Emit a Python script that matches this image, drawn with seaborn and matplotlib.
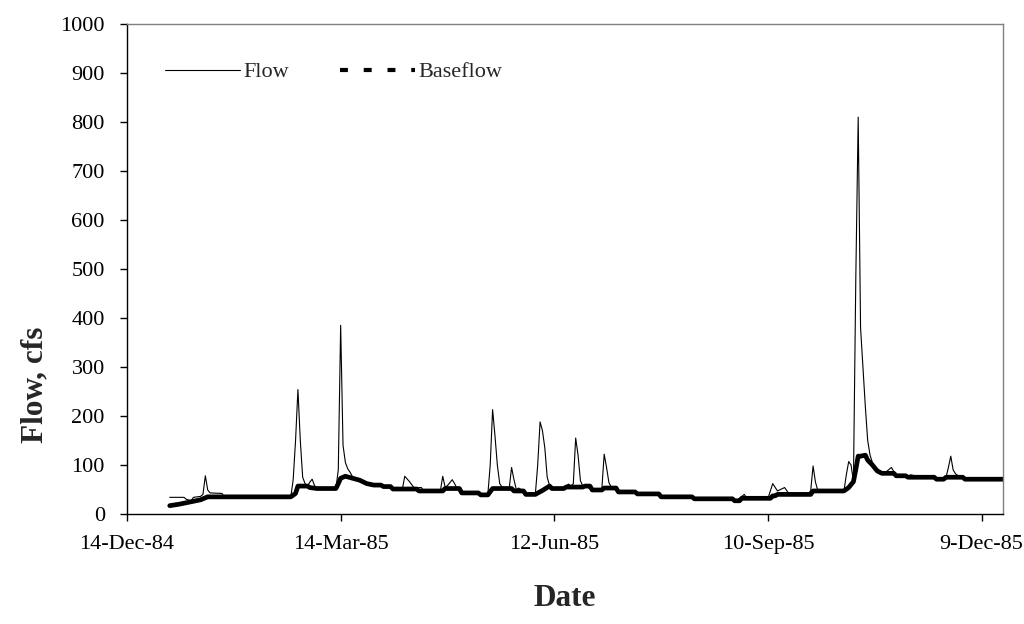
import matplotlib
matplotlib.use("Agg")
import matplotlib.pyplot as plt
from matplotlib.lines import Line2D
import pandas as pd
import seaborn as sns

# daily streamflow for 1985 (day of year -> cfs)
flow_day = [1, 7, 8, 10, 11, 14, 15, 16, 17, 18, 23, 24, 52, 53, 54, 55, 56, 57, 58, 59,
            60, 61, 62, 63, 71, 72, 73, 74, 75, 76, 77, 78, 81, 84, 87, 90, 91, 94, 95, 99,
            100, 102, 104, 105, 106, 107, 108, 115, 116, 117, 118, 120, 121, 122, 123, 124,
            131, 132, 135, 136, 137, 138, 139, 140, 141, 144, 145, 146, 147, 148, 149, 150,
            151, 155, 156, 157, 158, 159, 160, 161, 162, 167, 168, 169, 170, 171, 172, 173,
            174, 175, 176, 179, 183, 184, 185, 186, 187, 189, 190, 197, 198, 207, 208, 221,
            222, 238, 239, 240, 242, 243, 244, 253, 255, 257, 260, 262, 270, 271, 272, 273,
            274, 285, 286, 287, 288, 289, 290, 291, 292, 293, 294, 295, 296, 297, 298, 299,
            300, 302, 305, 307, 311, 312, 313, 315, 316, 323, 324, 327, 328, 329, 330, 331,
            332, 334, 335, 336, 352]
flow_cfs = [34, 34, 30, 27, 34, 36, 40, 78, 49, 43, 42, 35, 35, 70, 150, 254, 150, 75, 62, 57,
            65, 71, 58, 52, 52, 90, 385, 140, 105, 92, 85, 76, 69, 62, 59, 59, 56, 56, 51, 51,
            77, 66, 53, 51, 54, 54, 47, 47, 77, 55, 58, 70, 62, 52, 52, 43,
            43, 39, 40, 100, 213, 160, 100, 62, 55, 52, 95, 70, 50, 53, 50, 47,
            40, 40, 100, 188, 170, 135, 75, 58, 52, 52, 58, 61, 57, 62, 155, 120,
            68, 57, 57, 49, 50, 122, 95, 64, 55, 53, 45, 45, 41, 41, 35, 35,
            31, 31, 27, 28, 36, 40, 33, 32, 62, 47, 54, 40, 40, 48, 98, 65,
            48, 47, 80, 107, 100, 66, 483, 810, 380, 300, 220, 150, 120, 105, 95, 90,
            85, 83, 95, 78, 78, 75, 80, 78, 75, 75, 71, 71, 75, 95, 118, 90,
            82, 75, 75, 71, 71]

base_day = [1, 5, 10, 14, 17, 52, 54, 55, 59, 60, 63, 71, 72, 73, 75, 78, 81, 84, 87, 90,
            91, 94, 95, 105, 106, 116, 117, 123, 124, 131, 132, 135, 137, 145, 146, 150, 151,
            155, 158, 161, 162, 167, 168, 175, 176, 178, 179, 183, 184, 189, 190, 197, 198,
            207, 208, 221, 222, 238, 239, 241, 242, 254, 255, 256, 257, 271, 272, 285, 287,
            289, 290, 291, 292, 294, 295, 297, 299, 301, 306, 307, 311, 312, 323, 324, 327,
            328, 335, 336, 352]
base_cfs = [17, 20, 25, 29, 35, 35, 42, 57, 57, 54, 52, 52, 62, 73, 77, 73, 69, 62, 59, 59,
            56, 56, 51, 51, 47, 47, 52, 52, 43, 43, 39, 39, 52, 52, 47, 47, 40,
            40, 48, 57, 52, 52, 55, 55, 57, 57, 49, 49, 53, 53, 45, 45, 41,
            41, 35, 35, 31, 31, 27, 27, 32, 32, 37, 37, 40, 40, 47, 47, 54,
            66, 91, 118, 118, 120, 110, 100, 88, 83, 83, 78, 78, 75, 75, 71, 71,
            75, 75, 71, 71]

tick_dates = ["1984-12-14", "1985-03-14", "1985-06-12", "1985-09-10", "1985-12-09"]
tick_labels = ["14-Dec-84", "14-Mar-85", "12-Jun-85", "10-Sep-85", "9-Dec-85"]
y_ticks = list(range(0, 1001, 100))

start = pd.Timestamp("1985-01-01")
flow_df = pd.DataFrame({"Date": start + pd.to_timedelta([d - 1 for d in flow_day], unit="D"),
                        "Flow": flow_cfs})
base_df = pd.DataFrame({"Date": start + pd.to_timedelta([d - 1 for d in base_day], unit="D"),
                        "Baseflow": base_cfs})

sns.set_style("white")
plt.rcParams["font.family"] = ["Liberation Serif", "DejaVu Serif"]

fig = plt.figure(figsize=(10.24, 6.24), dpi=100)
ax = fig.add_axes([127 / 1024, 1 - 514 / 624, 876 / 1024, 490 / 624])

sns.lineplot(data=flow_df, x="Date", y="Flow", color="black", lw=0.8, estimator=None, ax=ax)
sns.lineplot(data=base_df, x="Date", y="Baseflow", color="black", lw=3.4, estimator=None, ax=ax)

ax.set_xlim(pd.Timestamp("1984-12-14"), pd.Timestamp("1985-12-18"))
ax.set_ylim(0, 1000)
ax.set_xticks(pd.to_datetime(tick_dates))
ax.set_xticklabels(tick_labels)
ax.set_yticks(y_ticks)

ax.tick_params(axis="both", direction="out", length=5, width=1, colors="black",
               labelsize=16, bottom=True, left=True)
ax.tick_params(axis="x", pad=10)
ax.tick_params(axis="y", pad=11)

for side in ["top", "right"]:
    ax.spines[side].set_color("#808080")
    ax.spines[side].set_linewidth(1)
for side in ["left", "bottom"]:
    ax.spines[side].set_color("black")
    ax.spines[side].set_linewidth(1)

ax.set_xlabel("Date", fontsize=22.5, fontweight="bold", labelpad=22)
ax.set_ylabel("Flow, cfs", fontsize=22.5, fontweight="bold")
ax.yaxis.set_label_coords(-0.089, 0.263)

handles = [Line2D([], [], color="black", lw=0.8),
           Line2D([], [], color="black", lw=3, dashes=(1.9, 3.8))]
ax.legend(handles, ["Flow", "Baseflow"], ncol=2, frameon=False, loc="center left",
          bbox_to_anchor=(0.043, 0.902), handlelength=3.4, handletextpad=0.12,
          columnspacing=2.3, borderpad=0, borderaxespad=0, fontsize=16)

fig.savefig("out.png", dpi=100)
